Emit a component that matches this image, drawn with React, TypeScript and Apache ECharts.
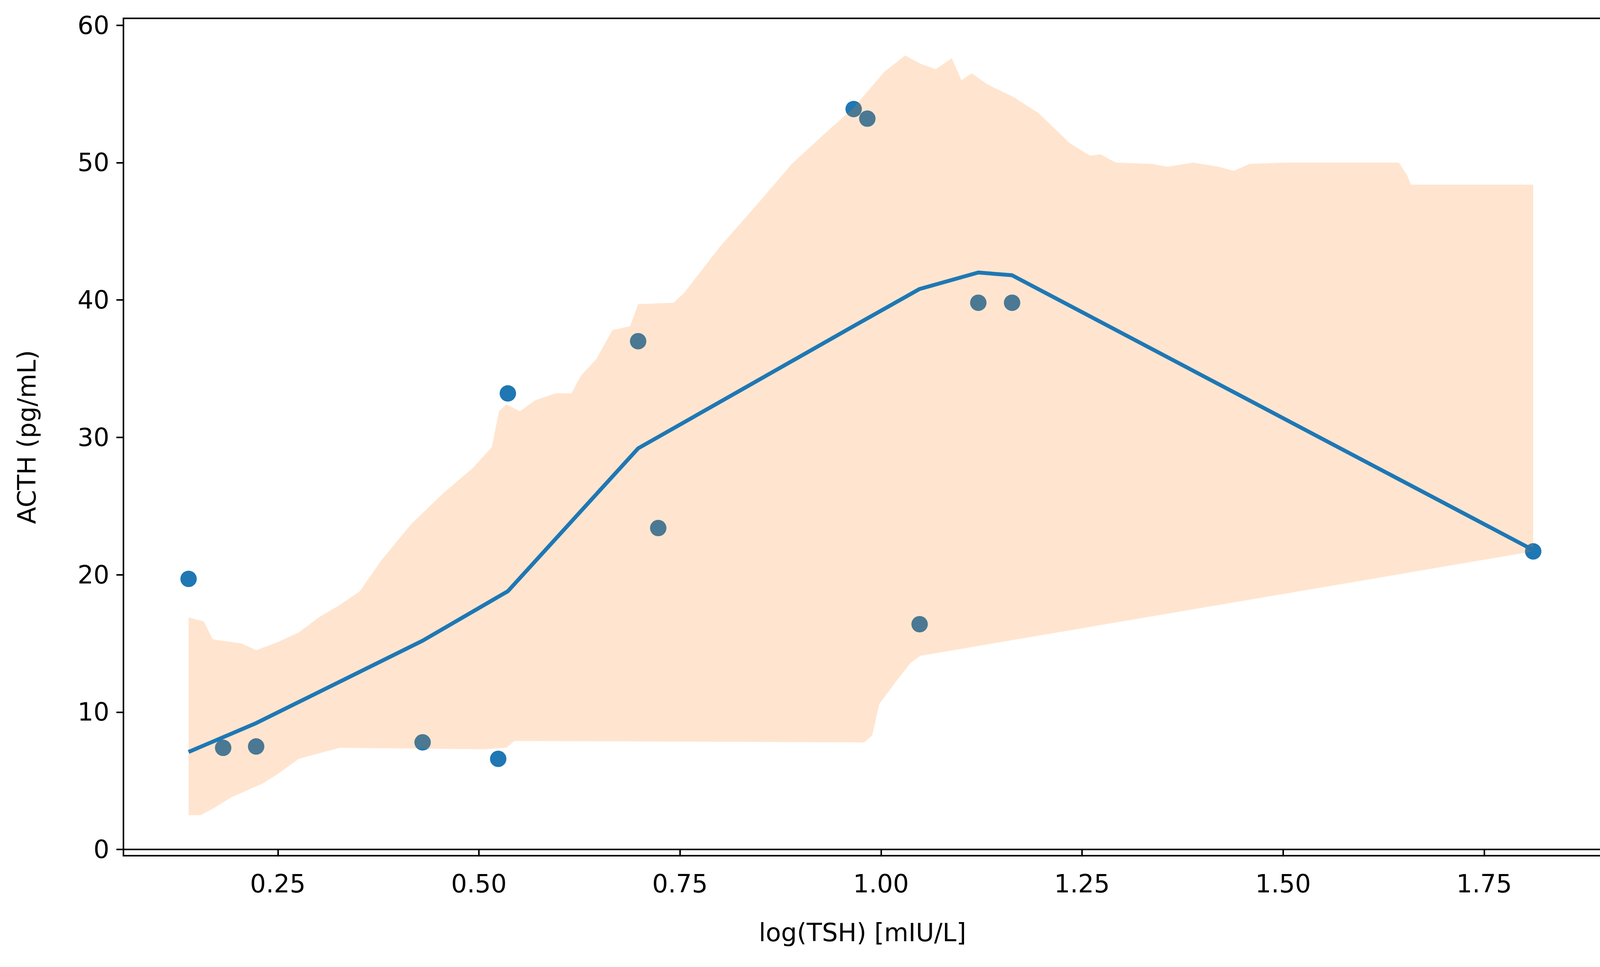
import React, { useEffect, useRef } from "react";
import * as echarts from "echarts";

const scatterPts: [number, number][] = [
  [0.139, 19.7], [0.182, 7.4], [0.223, 7.5], [0.43, 7.8], [0.524, 6.6], [0.536, 33.2],
  [0.698, 37.0], [0.723, 23.4], [0.966, 53.9], [0.983, 53.2], [1.048, 16.4],
  [1.121, 39.8], [1.163, 39.8], [1.811, 21.7],
];
const linePts: [number, number][] = [
  [0.139, 7.1], [0.223, 9.2], [0.43, 15.2], [0.536, 18.8], [0.698, 29.2], [0.966, 38.1],
  [1.048, 40.8], [1.121, 42.0], [1.163, 41.8], [1.811, 21.8],
];
const bandUpper: [number, number][] = [
  [0.139, 16.9], [0.158, 16.6], [0.169, 15.3], [0.205, 15.0], [0.223, 14.5], [0.25, 15.1],
  [0.276, 15.8], [0.301, 16.9], [0.327, 17.8], [0.352, 18.8], [0.378, 21.0], [0.416, 23.7],
  [0.455, 25.9], [0.493, 27.8], [0.516, 29.3], [0.525, 31.9], [0.534, 32.4], [0.551, 31.9],
  [0.57, 32.7], [0.595, 33.2], [0.615, 33.2], [0.627, 34.5], [0.646, 35.7], [0.666, 37.8],
  [0.688, 38.1], [0.698, 39.7], [0.742, 39.8], [0.755, 40.5], [0.8, 43.9], [0.851, 47.3],
  [0.889, 49.9], [0.928, 52.0], [0.966, 54.0], [1.004, 56.6], [1.03, 57.8], [1.049, 57.2],
  [1.068, 56.8], [1.088, 57.6], [1.1, 56.0], [1.113, 56.5], [1.132, 55.7], [1.164, 54.8],
  [1.196, 53.6], [1.235, 51.4], [1.26, 50.5], [1.273, 50.6], [1.292, 50.0], [1.337, 49.9],
  [1.356, 49.7], [1.388, 50.0], [1.42, 49.7], [1.439, 49.4], [1.458, 49.9], [1.503, 50.0],
  [1.644, 50.0], [1.654, 49.1], [1.659, 48.4], [1.811, 48.4],
];
const bandLower: [number, number][] = [
  [0.139, 2.5], [0.154, 2.5], [0.173, 3.1], [0.192, 3.8], [0.231, 4.8], [0.25, 5.5],
  [0.276, 6.6], [0.301, 7.0], [0.327, 7.4], [0.506, 7.3], [0.534, 7.4], [0.544, 7.9],
  [0.979, 7.8], [0.989, 8.3], [0.998, 10.6], [1.017, 12.1], [1.037, 13.6], [1.049, 14.1],
  [1.811, 21.7],
];
const xTicks = [0.25, 0.5, 0.75, 1.0, 1.25, 1.5, 1.75];
const yTicks = [0, 10, 20, 30, 40, 50, 60];

const FONT = "DejaVu Sans";

export default function App() {
  const ref = useRef<HTMLDivElement>(null);
  useEffect(() => {
    document.body.style.margin = "0";
    const chart = echarts.init(ref.current!, null, { renderer: "svg" });
    const axisCommon = {
      axisLine: { show: true, lineStyle: { color: "#000", width: 4 } },
      axisTick: { show: true, length: 18, inside: false, lineStyle: { color: "#000", width: 4 } },
      splitLine: { show: false },
      nameTextStyle: { fontFamily: FONT, fontSize: 64, color: "#000" },
    };
    chart.setOption({
      animation: false,
      backgroundColor: "#fff",
      grid: { left: 316, right: 29, top: 47, bottom: 285, show: true, borderColor: "#000", borderWidth: 4, backgroundColor: "transparent" },
      xAxis: {
        type: "value", min: 0.058, max: 1.896,
        ...axisCommon,
        axisTick: { ...axisCommon.axisTick, customValues: xTicks },
        axisLabel: { customValues: xTicks, formatter: (v: number) => v.toFixed(2), fontFamily: FONT, fontSize: 64, color: "#000", margin: 40 },
        name: "log(TSH) [mIU/L]", nameLocation: "middle", nameGap: 165,
      },
      yAxis: {
        type: "value", min: -0.45, max: 60.5,
        ...axisCommon,
        axisTick: { ...axisCommon.axisTick, customValues: yTicks },
        axisLabel: { customValues: yTicks, fontFamily: FONT, fontSize: 64, color: "#000", margin: 36 },
        name: "ACTH (pg/mL)", nameLocation: "middle", nameGap: 215, nameRotate: 90,
      },
      series: [
        {
          type: "scatter", data: scatterPts, symbolSize: 42, z: 1,
          itemStyle: { color: "#1f77b4", opacity: 1 },
        },
        {
          type: "custom", z: 2, data: [0], clip: true,
          renderItem: (_p: any, api: any) => {
            const pts = [...bandUpper, ...bandLower.slice().reverse()].map((d) => api.coord(d));
            return { type: "polygon", shape: { points: pts }, style: { fill: "#ff7f0e", opacity: 0.2 } };
          },
        },
        {
          type: "line", data: linePts, z: 3, symbol: "none",
          lineStyle: { color: "#1f77b4", width: 10 },
        },
      ],
    });
    return () => chart.dispose();
  }, []);
  return <div ref={ref} style={{ width: 4129, height: 2476 }} />;
}
